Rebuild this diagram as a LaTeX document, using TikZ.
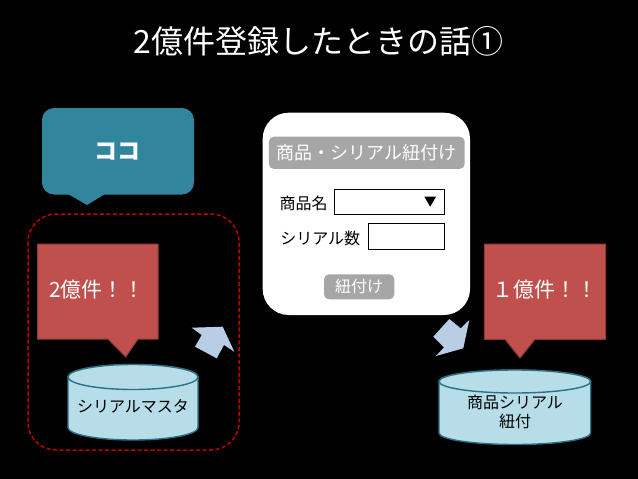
\documentclass[tikz,border=0pt]{standalone}
\usepackage{fontspec}
\setmainfont{Noto Sans CJK JP}
\definecolor{tealblue}{HTML}{31859C}
\definecolor{alertred}{HTML}{C0504D}
\definecolor{alertedge}{HTML}{8C3A38}
\definecolor{dbfill}{HTML}{B7DEE8}
\definecolor{arrowblue}{HTML}{B9CDE5}
\definecolor{dashred}{HTML}{C00000}
\definecolor{formgray}{HTML}{A6A6A6}
\begin{document}
\begin{tikzpicture}[x=1pt, y=-1pt]
      \tikzstyle{alert} = [
        draw=alertedge,
        line width=1pt,
        fill=alertred
      ]

      \tikzstyle{alerttext} = [
        text=white,
        font=\fontsize{21}{24}\selectfont,
        inner sep=0pt,
        anchor=west
      ]

      \tikzstyle{db} = [
        draw=tealblue!85!black,
        line width=1.4pt,
        fill=dbfill
      ]

      \tikzstyle{dbtext} = [
        text=black,
        font=\fontsize{16}{19}\selectfont,
        align=center,
        inner sep=0pt
      ]

      \tikzstyle{formgraybox} = [
        rectangle,
        fill=formgray,
        rounded corners=5pt,
        text=white,
        inner sep=0pt
      ]

      \tikzstyle{formfield} = [
        rectangle,
        draw=black,
        line width=1pt,
        fill=white,
        inner sep=0pt
      ]

      \tikzstyle{formlabel} = [
        text=black,
        font=\fontsize{16}{20}\selectfont,
        inner sep=0pt
      ]

      \tikzstyle{blockarrow} = [
        fill=arrowblue
      ]

      \fill[black] (0,0) rectangle (638,479);

      \node[text=white, font=\fontsize{32}{38}\selectfont, inner sep=0pt] (title) at (318.5,41) {2億件登録したときの話①};

      % callout
      \fill[tealblue, rounded corners=12pt] (42,108) -- (194,108) -- (194,194.5) -- (42,194.5) -- cycle;
      \fill[tealblue] (68,194) -- (87,205) -- (105,194) -- cycle;
      \node[text=white, font=\fontsize{23}{26}\selectfont\bfseries, inner sep=0pt] (koko) at (117,151.5) {ココ};

      \draw[dashred, line width=1.5pt, dash pattern=on 4pt off 2.5pt, rounded corners=28pt] (28,214) rectangle (239,450);

      % left
      \draw[alert] (37.5,244) -- (158,244) -- (158,339) -- (138,339) -- (125.7,357) -- (108,339) -- (37.5,339) -- cycle;
      \node[alerttext] (count2) at (49,290) {2億件！！};

      \draw[db] (68,377) -- (68,427.5) arc[start angle=180, end angle=360, x radius=65pt, y radius=12.5pt] -- (198,377) arc[start angle=0, end angle=180, x radius=65pt, y radius=12.5pt] -- cycle;
      \draw[db] (133,377) ellipse [x radius=65pt, y radius=12.5pt];
      \node[dbtext] (master) at (133,406.5) {シリアルマスタ};

      \fill[blockarrow] (191.7,327.7) -- (222.7,326.7) -- (234.3,351.7) -- (224,345) -- (216.7,358.3) -- (195,346.7) -- (201.7,335) -- cycle;

      % form
      \fill[white, rounded corners=26pt] (262.7,112.7) rectangle (470,315);
      \node[formgraybox, minimum width=195.7pt, minimum height=32.3pt, font=\fontsize{18}{20}\selectfont] (header) at (366.8,152.8) {商品・シリアル紐付け};
      \node[formlabel] (namelabel) at (303.7,203) {商品名};
      \node[formfield, minimum width=110pt, minimum height=25pt] (select) at (389.3,201.8) {};
      \fill[black] (424.3,196.7) -- (436,196.7) -- (430.2,206.7) -- cycle;
      \node[formlabel] (numlabel) at (320.3,238) {シリアル数};
      \node[formfield, minimum width=76pt, minimum height=26pt] (input) at (406.3,236.3) {};
      \node[formgraybox, minimum width=70.3pt, minimum height=25pt, font=\fontsize{16}{18}\selectfont] (linkbutton) at (359.2,286.8) {紐付け};

      % right
      \fill[blockarrow] (433.3,336.7) -- (449.3,319) -- (460.7,328.3) -- (469.3,320) -- (463.3,348.3) -- (436,356) -- (444,347.3) -- cycle;

      \draw[alert] (484.3,244) -- (605.7,244) -- (605.7,339.3) -- (535,339.3) -- (520,358) -- (505,339.3) -- (484.3,339.3) -- cycle;
      \node[alerttext] (count1) at (492,290) {１億件！！};

      \draw[db] (439,381.5) -- (439,433) arc[start angle=180, end angle=360, x radius=75.85pt, y radius=11.5pt] -- (590.7,381.5) arc[start angle=0, end angle=180, x radius=75.85pt, y radius=11.5pt] -- cycle;
      \draw[db] (514.85,381.5) ellipse [x radius=75.85pt, y radius=11.5pt];
      \node[dbtext] (linktable) at (515,412.2) {商品シリアル\\紐付};

      \useasboundingbox (0,0) rectangle (638,479);
\end{tikzpicture}
\end{document}
